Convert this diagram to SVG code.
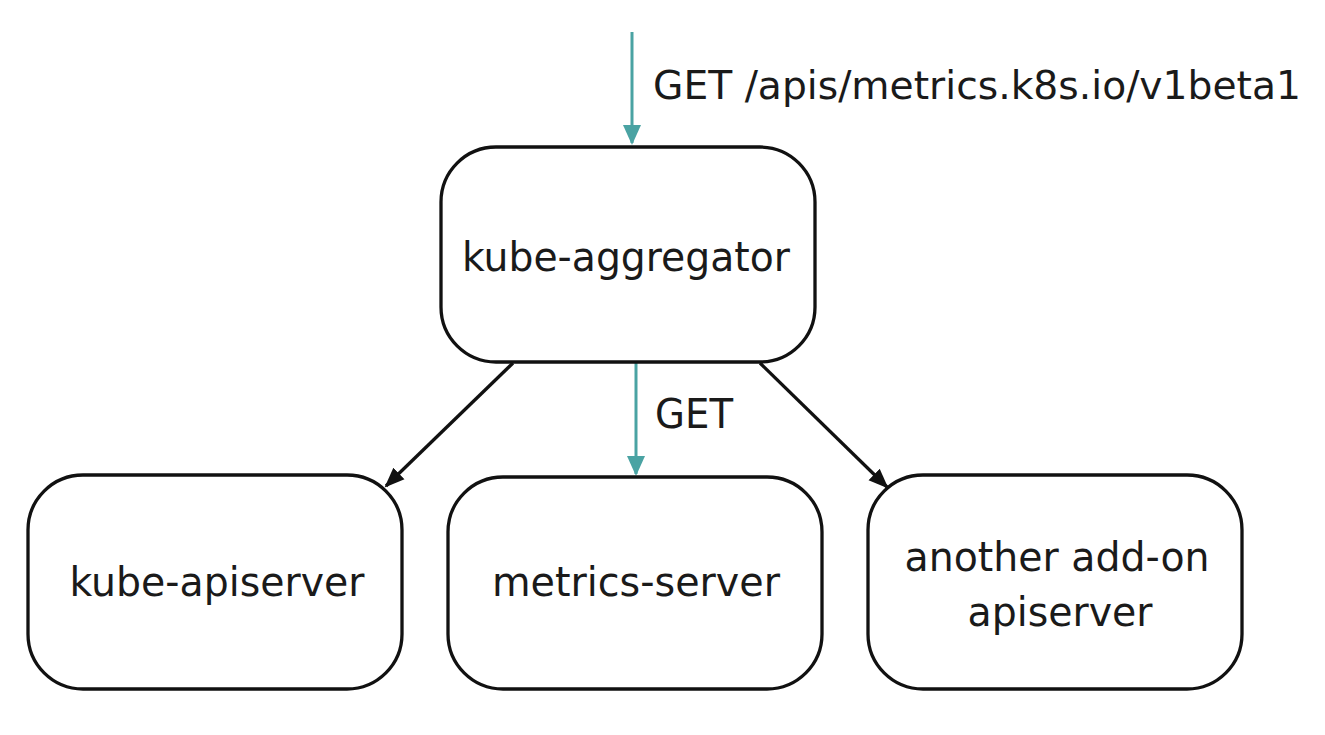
<svg xmlns="http://www.w3.org/2000/svg" width="1325" height="735" viewBox="0 0 1325 735">
<style>
.box{fill:#fff;stroke:#111;stroke-width:3.3}
.t{font-family:"DejaVu Sans",sans-serif;font-size:41px;fill:#1a1a1a;text-anchor:middle}
.l{font-family:"DejaVu Sans",sans-serif;font-size:41px;fill:#1a1a1a}
.teal{stroke:#4aa3a3;stroke-width:3;fill:none}
.blk{stroke:#111;stroke-width:3.3;fill:none}
</style>
<defs>
<marker id="ba" markerWidth="20" markerHeight="20" refX="18" refY="10" orient="auto" markerUnits="userSpaceOnUse" viewBox="0 0 20 20"><path d="M0,2 L20,10 L0,18 z" fill="#111"/></marker>
<marker id="tb" markerWidth="20" markerHeight="20" refX="18" refY="10" orient="auto" markerUnits="userSpaceOnUse" viewBox="0 0 20 20"><path d="M0,1 L20,10 L0,19 z" fill="#4aa3a3"/></marker>
</defs>
<rect width="1325" height="735" fill="#fff"/>
<g id="connectors">
<line class="teal" x1="632" y1="32" x2="632" y2="143" marker-end="url(#tb)"/>
<text class="l" x="653" y="99" style="font-size:39px" textLength="648" lengthAdjust="spacingAndGlyphs">GET /apis/metrics.k8s.io/v1beta1</text>
<line class="teal" x1="636" y1="363" x2="636" y2="474" marker-end="url(#tb)"/>
<text class="l" x="655" y="428" textLength="78" lengthAdjust="spacingAndGlyphs">GET</text>
<line class="blk" x1="513" y1="363" x2="386" y2="486" marker-end="url(#ba)"/>
<line class="blk" x1="760" y1="363" x2="887" y2="487" marker-end="url(#ba)"/>
</g>
<g id="kube-aggregator">
<rect class="box" x="441" y="147" width="374" height="215" rx="55" ry="55"/>
<text class="t" x="626" y="271" textLength="328" lengthAdjust="spacingAndGlyphs">kube-aggregator</text>
</g>
<g id="kube-apiserver">
<rect class="box" x="28" y="475" width="374" height="214" rx="55" ry="55"/>
<text class="t" x="217" y="596" textLength="295" lengthAdjust="spacingAndGlyphs">kube-apiserver</text>
</g>
<g id="metrics-server">
<rect class="box" x="448" y="477" width="374" height="212" rx="55" ry="55"/>
<text class="t" x="636" y="596" textLength="288" lengthAdjust="spacingAndGlyphs">metrics-server</text>
</g>
<g id="another-add-on-apiserver">
<rect class="box" x="868" y="475" width="374" height="214" rx="55" ry="55"/>
<text class="t" x="1057" y="571" textLength="305" lengthAdjust="spacingAndGlyphs">another add-on</text>
<text class="t" x="1060" y="626" textLength="185" lengthAdjust="spacingAndGlyphs">apiserver</text>
</g>
</svg>
